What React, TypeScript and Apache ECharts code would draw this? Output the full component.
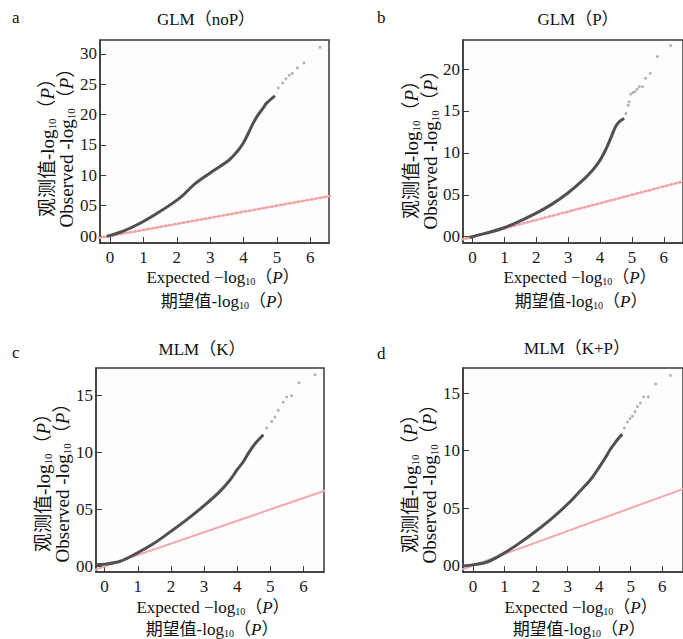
import React, { useEffect, useRef } from "react";
import * as echarts from "echarts";

// ---------- data ----------
const xTicks = [0, 1, 2, 3, 4, 5, 6];
const yTicksA = [0, 5, 10, 15, 20, 25, 30];
const yTicksB = [0, 5, 10, 15, 20];
const yTicksCD = [0, 5, 10, 15];

const titles = ["GLM（noP）", "GLM（P）", "MLM（K）", "MLM（K+P）"];
const letters = ["a", "b", "c", "d"];

// expected (y = x) reference line end points
const expX = [-0.35, 6.7];
const expY = [-0.35, 6.7];

// panel a: GLM (noP)
const aObsX = [-0.1, 0.0, 0.4, 0.9, 1.4, 1.9, 2.2, 2.54, 3.0, 3.54, 3.79, 3.99, 4.14, 4.29, 4.44, 4.59, 4.69, 4.94];
const aObsY = [-0.05, 0.1, 0.8, 2.1, 3.7, 5.5, 6.8, 8.6, 10.4, 12.4, 13.8, 15.3, 16.9, 18.6, 20.0, 21.1, 21.9, 23.1];
const aTailX = [5.04, 5.17, 5.27, 5.37, 5.46, 5.61, 5.81, 6.29];
const aTailY = [24.4, 25.2, 25.9, 26.5, 26.8, 27.7, 28.5, 31.1];

// panel b: GLM (P)
const bObsX = [-0.1, 0.0, 0.99, 1.98, 2.48, 2.98, 3.47, 3.77, 3.97, 4.12, 4.22, 4.37, 4.51, 4.66, 4.76];
const bObsY = [-0.1, 0.0, 1.07, 2.79, 3.86, 5.18, 6.77, 7.96, 8.95, 9.95, 10.74, 12.1, 13.3, 13.9, 14.1];
const bTailX = [4.81, 4.88, 4.91, 4.96, 5.03, 5.09, 5.16, 5.23, 5.33, 5.42, 5.57, 5.8, 6.21];
const bTailY = [14.7, 15.7, 16.1, 17.0, 17.2, 17.3, 17.6, 17.9, 17.9, 18.9, 19.5, 21.5, 22.8];

// panel c: MLM (K)
const cObsX = [-0.26, 0.02, 0.47, 0.98, 1.48, 2.0, 2.48, 3.01, 3.48, 3.79, 4.0, 4.19, 4.34, 4.54, 4.79];
const cObsY = [0.15, 0.2, 0.45, 1.17, 2.0, 3.07, 4.1, 5.35, 6.58, 7.6, 8.48, 9.2, 9.94, 10.76, 11.55];
const cTailX = [4.89, 5.04, 5.14, 5.24, 5.39, 5.49, 5.64, 5.87, 6.35];
const cTailY = [12.14, 12.7, 13.1, 13.7, 14.4, 14.86, 14.97, 16.1, 16.8];

// panel d: MLM (K+P)
const dObsX = [-0.32, 0.0, 0.45, 1.0, 1.5, 2.0, 2.5, 3.0, 3.4, 3.75, 4.0, 4.2, 4.35, 4.5, 4.65, 4.74];
const dObsY = [-0.05, 0.05, 0.3, 1.1, 2.0, 3.0, 4.1, 5.35, 6.5, 7.55, 8.55, 9.4, 10.1, 10.66, 11.2, 11.4];
const dTailX = [4.8, 4.9, 4.98, 5.06, 5.14, 5.21, 5.31, 5.41, 5.56, 5.79, 6.26];
const dTailY = [11.97, 12.5, 12.8, 13.0, 13.4, 13.85, 14.15, 14.7, 14.7, 15.8, 16.55];

// ---------- layout ----------
const SERIF = "'Liberation Serif', 'Times New Roman', 'Noto Sans CJK SC', serif";

const panels = [
  { grid: { left: 100, top: 40, width: 229, height: 203 }, x: [-0.3, 6.56], y: [-1.15, 32.3], yTicks: yTicksA, obs: [aObsX, aObsY], tail: [aTailX, aTailY], dotted: true,
    title: [206, 19], letter: [12, 17], yName: [47, 66, 143], xName: [223, 277, 227, 301] },
  { grid: { left: 463, top: 40, width: 232, height: 203 }, x: [-0.3, 6.6], y: [-0.75, 23.47], yTicks: yTicksB, obs: [bObsX, bObsY], tail: [bTailX, bTailY], dotted: true,
    title: [578, 19], letter: [377, 17], yName: [411, 430, 145], xName: [580, 277, 581, 301] },
  { grid: { left: 96, top: 368, width: 228, height: 204 }, x: [-0.26, 6.62], y: [-0.49, 17.4], yTicks: yTicksCD, obs: [cObsX, cObsY], tail: [cTailX, cTailY], dotted: false,
    title: [202, 349], letter: [12, 352], yName: [43, 62, 478], xName: [213, 607, 212, 629] },
  { grid: { left: 463, top: 368, width: 232, height: 204 }, x: [-0.32, 6.66], y: [-0.57, 17.2], yTicks: yTicksCD, obs: [dObsX, dObsY], tail: [dTailX, dTailY], dotted: false,
    title: [577, 348], letter: [377, 353], yName: [410, 429, 479], xName: [581, 607, 579, 629] },
];

const zip = (xs: number[], ys: number[]) => xs.map((v, i) => [v, ys[i]]);

const rich = (size: number) => ({
  sub: { fontSize: Math.round(size * 0.6), fontFamily: SERIF, fill: "#111", verticalAlign: "bottom", lineHeight: size + 2 },
  it: { fontStyle: "italic", fontFamily: SERIF, fontSize: size, fill: "#111", lineHeight: size + 2 },
  n: { fontFamily: SERIF, fontSize: size, fill: "#111", lineHeight: size + 2 },
});

export default function App() {
  const ref = useRef<HTMLDivElement>(null);
  useEffect(() => {
    if (!ref.current) return;
    const chart = echarts.init(ref.current, null, { renderer: "svg" });

    const grids: any[] = [];
    const xAxes: any[] = [];
    const yAxes: any[] = [];
    const series: any[] = [];
    const graphics: any[] = [];

    panels.forEach((p, i) => {
      grids.push({ ...p.grid, show: true, backgroundColor: "#fdfdfd", borderColor: "#3a3a3a", borderWidth: 1.5, containLabel: false });
      const common = (ticks: number[]) => ({
        gridIndex: i,
        type: "value",
        axisLine: { show: true, onZero: false, lineStyle: { color: "#3a3a3a", width: 1.5 } },
        axisTick: { show: true, inside: true, length: 6, customValues: ticks, lineStyle: { color: "#3a3a3a", width: 1 } },
        splitLine: { show: false },
      });
      xAxes.push({
        ...common(xTicks),
        min: p.x[0],
        max: p.x[1],
        axisLabel: { customValues: xTicks, color: "#1a1a1a", fontFamily: SERIF, fontSize: 17, margin: 6 },
      });
      yAxes.push({
        ...common(p.yTicks),
        min: p.y[0],
        max: p.y[1],
        axisLabel: {
          customValues: p.yTicks,
          color: "#1a1a1a",
          fontFamily: SERIF,
          fontSize: 17,
          margin: 3,
          formatter: (v: number) => (v < 10 ? "0" + v : String(v)),
        },
      });
      series.push({
        type: "line",
        xAxisIndex: i,
        yAxisIndex: i,
        data: zip(expX, expY),
        showSymbol: false,
        silent: true,
        lineStyle: p.dotted ? { color: "#f4a2a2", width: 2.5, type: [2, 2.5], cap: "round" } : { color: "#f6a8a8", width: 2 },
        z: 2,
      });
      series.push({
        type: "line",
        xAxisIndex: i,
        yAxisIndex: i,
        data: zip(p.obs[0], p.obs[1]),
        showSymbol: false,
        smooth: 0.35,
        silent: true,
        lineStyle: { color: "#505050", width: 3 },
        z: 3,
      });
      series.push({
        type: "scatter",
        xAxisIndex: i,
        yAxisIndex: i,
        data: zip(p.tail[0], p.tail[1]),
        symbolSize: 3,
        silent: true,
        itemStyle: { color: "#a0a0a0" },
        z: 3,
      });

      graphics.push({
        type: "text",
        x: p.title[0],
        y: p.title[1],
        style: { text: titles[i], fontFamily: SERIF, fontSize: 17, fill: "#111", align: "center", verticalAlign: "middle" },
      });
      graphics.push({
        type: "text",
        x: p.letter[0],
        y: p.letter[1],
        style: { text: letters[i], fontFamily: SERIF, fontSize: 17, fill: "#111", align: "left", verticalAlign: "middle" },
      });
      const ys = 19;
      graphics.push({
        type: "text",
        x: p.yName[0],
        y: p.yName[2],
        rotation: Math.PI / 2,
        style: {
          text: "{n|观测值-log}{sub|10}{n|（}{it|P}{n|）}",
          rich: rich(ys),
          fontFamily: SERIF,
          fontSize: ys,
          align: "center",
          verticalAlign: "middle",
        },
      });
      graphics.push({
        type: "text",
        x: p.yName[1],
        y: p.yName[2],
        rotation: Math.PI / 2,
        style: {
          text: "{n|Observed -log}{sub|10}{n|（}{it|P}{n|）}",
          rich: rich(ys),
          fontFamily: SERIF,
          fontSize: ys,
          align: "center",
          verticalAlign: "middle",
        },
      });
      const xs = 17;
      graphics.push({
        type: "text",
        x: p.xName[0],
        y: p.xName[1],
        style: {
          text: "{n|Expected −log}{sub|10}{n|（}{it|P}{n|）}",
          rich: rich(xs),
          fontFamily: SERIF,
          fontSize: xs,
          align: "center",
          verticalAlign: "middle",
        },
      });
      graphics.push({
        type: "text",
        x: p.xName[2],
        y: p.xName[3],
        style: {
          text: "{n|期望值-log}{sub|10}{n|（}{it|P}{n|）}",
          rich: rich(xs),
          fontFamily: SERIF,
          fontSize: xs,
          align: "center",
          verticalAlign: "middle",
        },
      });
    });

    chart.setOption({
      animation: false,
      backgroundColor: "#ffffff",
      grid: grids,
      xAxis: xAxes,
      yAxis: yAxes,
      series,
      graphic: graphics,
    });
    return () => chart.dispose();
  }, []);

  return <div ref={ref} style={{ position: "fixed", left: 0, top: 0, width: 683, height: 639, overflow: "hidden" }} />;
}
